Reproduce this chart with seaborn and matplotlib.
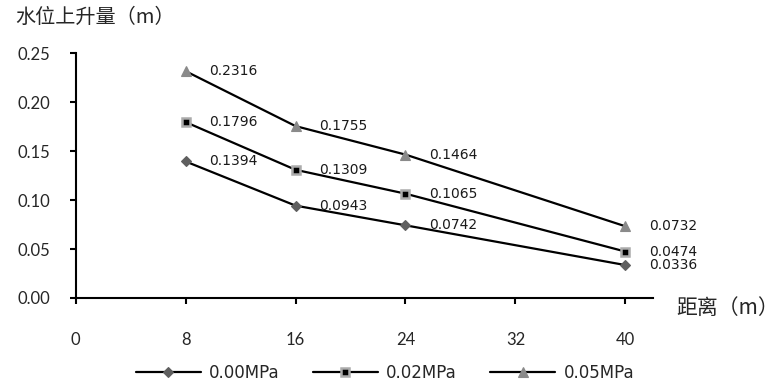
import numpy as np
import pandas as pd
import seaborn as sns
import matplotlib.pyplot as plt

# data
distance = [8, 16, 24, 40]
rise_000 = [0.1394, 0.0943, 0.0742, 0.0336]
rise_002 = [0.1796, 0.1309, 0.1065, 0.0474]
rise_005 = [0.2316, 0.1755, 0.1464, 0.0732]
series_names = ['0.00MPa', '0.02MPa', '0.05MPa']
x_ticks = [0, 8, 16, 24, 32, 40]
y_ticks = [0.00, 0.05, 0.10, 0.15, 0.20, 0.25]

sns.set_theme(style='white')
plt.rcParams['font.family'] = ['Noto Sans CJK SC', 'DejaVu Sans']

fig, ax = plt.subplots(figsize=(7.8, 3.85), dpi=100)
fig.subplots_adjust(left=0.097, right=0.837, bottom=0.226, top=0.862)

marker_styles = [
    dict(marker='D', markersize=5.5, markerfacecolor='#5f5f5f', markeredgecolor='#5f5f5f', markeredgewidth=0.8),
    dict(marker='s', markersize=5.5, markerfacecolor='black', markeredgecolor='#ababab', markeredgewidth=1.8),
    dict(marker='^', markersize=7, markerfacecolor='#8a8a8a', markeredgecolor='#8a8a8a', markeredgewidth=0.8),
]

for name, vals, mk in zip(series_names, [rise_000, rise_002, rise_005], marker_styles):
    df = pd.DataFrame({'distance': distance, 'rise': vals})
    sns.lineplot(data=df, x='distance', y='rise', ax=ax, color='black', linewidth=1.6,
                 label=name, clip_on=False, **mk)
    for xv, yv in zip(distance, vals):
        ax.annotate(f'{yv:.4f}', (xv, yv), xytext=(17, 0), textcoords='offset points',
                    ha='left', va='center', fontsize=10, family='DejaVu Sans', color='#1a1a1a')

ax.set_xlim(0, 42)
ax.set_ylim(0, 0.25)
ax.set_xticks(x_ticks)
ax.set_yticks(y_ticks)
ax.set_xticklabels([str(t) for t in x_ticks], family='Lato', fontsize=12)
ax.set_yticklabels([f'{t:.2f}' for t in y_ticks], family='Lato', fontsize=12)
ax.set_xlabel('')
ax.set_ylabel('')

for s in ['top', 'right']:
    ax.spines[s].set_visible(False)
for s in ['left', 'bottom']:
    ax.spines[s].set_color('black')
    ax.spines[s].set_linewidth(1.5)
ax.tick_params(axis='x', direction='out', length=4.5, width=1.5, color='black', pad=20, bottom=True)
ax.tick_params(axis='y', direction='out', length=4.5, width=1.5, color='black', pad=14, left=True)
ax.grid(False)

fig.text(15 / 780, 1 - 17 / 385, '水位上升量（m）', fontsize=14.5, va='center', ha='left')
fig.text(676 / 780, 1 - 308 / 385, '距离（m）', fontsize=15, va='center', ha='left')

handles, labels = ax.get_legend_handles_labels()
ax.get_legend().remove()
fig.legend(handles, labels, loc='center', bbox_to_anchor=(385 / 780, 1 - 373 / 385), ncol=3,
           frameon=False, handlelength=3.9, handletextpad=0.5, columnspacing=2.0,
           prop={'family': 'DejaVu Sans', 'size': 12})

fig.savefig('out.png', dpi=100)
